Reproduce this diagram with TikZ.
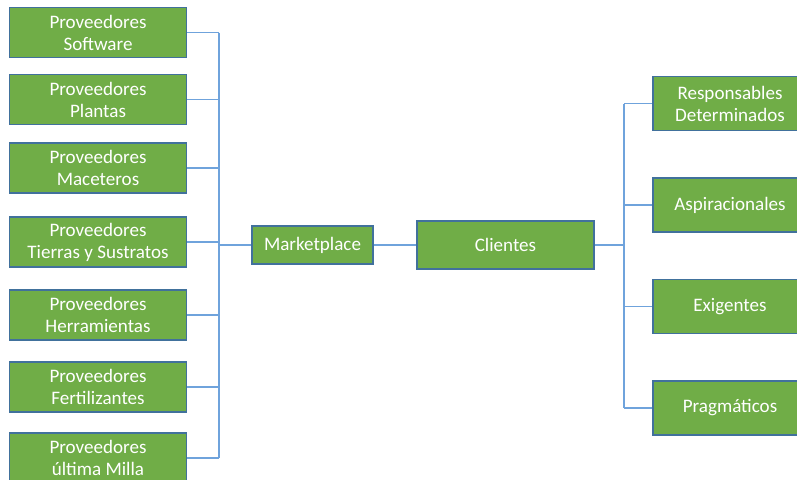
\documentclass[tikz,border=0pt]{standalone}
\usepackage{fontspec}
\setmainfont{Carlito}
\usetikzlibrary{positioning, calc}
\definecolor{boxfill}{HTML}{70AD47}
\definecolor{boxline}{HTML}{41719C}
\definecolor{wire}{HTML}{6FA3DC}

\begin{document}
\begin{tikzpicture}[
    x=0.75pt, y=-0.75pt,
    every node/.style={font=\fontsize{14.3pt}{16.5pt}\selectfont},
    prov/.style={draw=boxline, line width=0.8pt, fill=boxfill, text=white,
                 minimum width=132.75pt, minimum height=37.5pt, inner sep=0pt,
                 align=center},
    hub/.style={draw=boxline, line width=0.8pt, fill=boxfill, text=white,
                minimum height=28.5pt, inner sep=0pt, align=center},
    seg/.style={draw=boxline, line width=0.8pt, fill=boxfill, text=white,
                minimum width=115.5pt, minimum height=40.5pt, inner sep=0pt,
                align=center},
    conn/.style={draw=wire, line width=0.9pt}
]
    \useasboundingbox (0,0) rectangle (797,479);

    % Proveedores (left column)
    \node[prov] (p1) at (98, 32.5) {Proveedores\\Software};
    \node[prov] (p2) at (98, 99.5) {Proveedores\\Plantas};
    \node[prov] (p3) at (98, 168) {Proveedores\\Maceteros};
    \node[prov] (p4) at (98, 242) {Proveedores\\Tierras y Sustratos};
    \node[prov] (p5) at (98, 315) {Proveedores\\Herramientas};
    \node[prov] (p6) at (98, 387) {Proveedores\\Fertilizantes};
    \node[prov] (p7) at (98, 458) {Proveedores\\última Milla};

    % Centre
    \node[hub, minimum width=90.75pt] (mk) at (312.5, 245) {Marketplace};
    \node[hub, minimum width=132.75pt, minimum height=36pt] (cl) at (505.5, 245) {Clientes};

    % Clientes (right column)
    \node[seg] (s1) at (730, 103.5) {Responsables\\Determinados};
    \node[seg] (s2) at (730, 205) {Aspiracionales};
    \node[seg] (s3) at (730, 306.5) {Exigentes};
    \node[seg] (s4) at (730, 408) {Pragmáticos};

    \coordinate (lbus) at (219, 0);
    \coordinate (rbus) at (624, 0);

    % left tree
    \foreach \i in {1,...,7}
        \draw[conn] (p\i.east) -- (p\i.east -| lbus);
    \draw[conn] (p1.east -| lbus) -- (p7.east -| lbus);
    \draw[conn] (mk.west -| lbus) -- (mk.west);
    \draw[conn] (mk.east) -- (cl.west);

    % right tree
    \foreach \i in {1,...,4}
        \draw[conn] (s\i.west -| rbus) -- (s\i.west);
    \draw[conn] (s1.west -| rbus) -- (s4.west -| rbus);
    \draw[conn] (cl.east) -- (cl.east -| rbus);
\end{tikzpicture}
\end{document}
